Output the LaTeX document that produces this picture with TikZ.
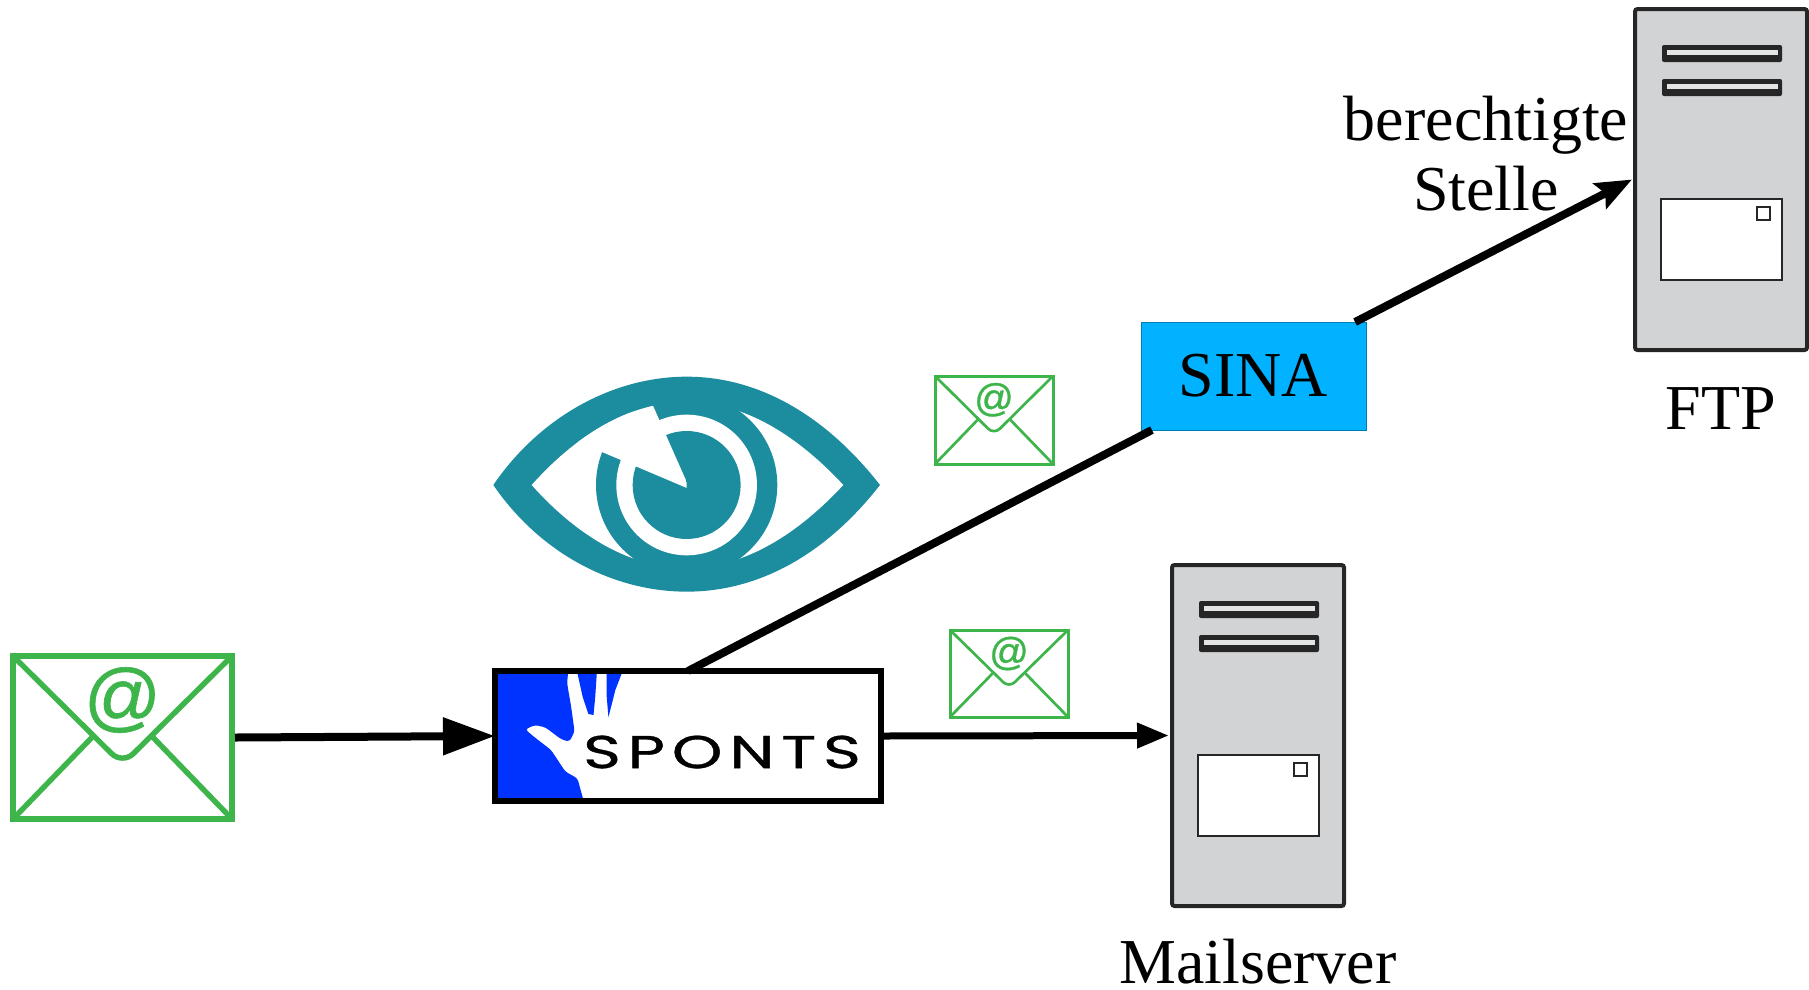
\documentclass[tikz,border=0pt]{standalone}
\usepackage{fontspec}
\usepackage{graphicx}
\setmainfont{Liberation Serif}
\newfontfamily\logofont[LetterSpace=10.6,FakeBold=0.7]{Poppins}
\newfontfamily\atfont[FakeBold=0.8]{Liberation Sans}
\usetikzlibrary{arrows.meta}
\definecolor{mailgreen}{HTML}{3DB54A}
\definecolor{eyeteal}{HTML}{1C8C9F}
\definecolor{handblue}{HTML}{0033FF}
\definecolor{sinablue}{HTML}{00B2FF}
\definecolor{servergrey}{HTML}{D1D3D4}
\definecolor{serverline}{HTML}{262626}
\tikzset{
  every node/.style={inner sep=0pt,outer sep=0pt},
  caption/.style={font=\fontsize{64}{70}\selectfont,anchor=base,text=black},
  flow/.style={draw=black,line width=8pt},
  envbox/.style={draw=mailgreen,fill=white,anchor=north west},
  serverbody/.style={draw=serverline,fill=servergrey,line width=4pt,rounded corners=2.5pt,anchor=north west,minimum width=172pt,minimum height=341pt},
  serverslot/.style={fill=serverline,rounded corners=2pt},
  serverslotin/.style={fill=servergrey!60!white},
  serverpanel/.style={draw=serverline,fill=white,line width=1.8pt},
}
% name, x, y, w, h, line width, font size
\newcommand{\mailicon}[7]{%
  \node[envbox,line width=#6pt,minimum width=#4pt,minimum height=#5pt] (#1) at (#2,#3) {};
  \begin{scope}[shift={(#2,#3)},xscale=#4,yscale=#5,draw=mailgreen,line width=0.9*#6pt]
    \draw[rounded corners=0.07*#4pt] (0,0) -- (.5,.665) -- (1,0);
    \draw (0,1) -- (.36,.5);
    \draw (1,1) -- (.64,.5);
    \node[text=mailgreen,font=\atfont\fontsize{#7}{#7}\selectfont] (#1at) at (.5,.27) {@};
  \end{scope}}
% name, dx, dy
\newcommand{\servertower}[3]{%
  \node[serverbody] (#1) at (1635+#2,9+#3) {};
  \begin{scope}[shift={(#2,#3)}]
    \fill[serverslot] (1662,45) rectangle (1782,62);
    \fill[serverslotin] (1667,49.5) rectangle (1778,55);
    \fill[serverslot] (1662,79) rectangle (1782,96);
    \fill[serverslotin] (1667,83.5) rectangle (1778,89);
    \draw[serverpanel] (1661,199) rectangle (1782,280);
    \draw[serverpanel] (1757,207) rectangle (1770,220);
  \end{scope}}
\begin{document}
\begin{tikzpicture}[x=1pt,y=-1pt]
\useasboundingbox (0,0) rectangle (1809,989);
\fill[white] (0,0) rectangle (1809,989);

% servers
\servertower{ftp}{0}{0}
\servertower{mail}{-463}{556}

% envelopes
\mailicon{envin}{13}{656}{219}{163}{6}{76}
\mailicon{envup}{935}{376}{118}{88}{3}{39}
\mailicon{envdown}{950}{630}{118}{87}{3}{39}

% SPONTS logo
\node[draw=black,fill=white,line width=5.5pt,minimum width=386pt,minimum height=130pt,anchor=north west] (sponts) at (495,671) {};
\begin{scope}[shift={(0,640)},xscale=0.574,yscale=0.3333]
  \fill[handblue,rounded corners=3pt] (866,92) -- (990,92) -- (988,130) -- (995,200) -- (1001,275) -- (992,305) -- (978,298) -- (950,262) -- (932,255) -- (915,268) -- (930,290) -- (960,330) -- (985,395) -- (1006,415) -- (1017,484) -- (866,484) -- cycle;
  \fill[handblue] (1005,92) -- (1015,170) -- (1025,222) -- (1034,225) -- (1037,170) -- (1040,92) -- cycle;
  \fill[handblue] (1057,92) -- (1057,170) -- (1060,232) -- (1072,150) -- (1085,92) -- cycle;
\end{scope}
\draw[black,line width=5.5pt] (sponts.north west) rectangle (sponts.south east);
\node[font=\logofont\fontsize{46}{46}\selectfont,text=black] (spontstext) at (722,752) {\scalebox{1.4}[1]{SPONTS}};

% SINA
\node[draw=sinablue!70!black,fill=sinablue,line width=0.8pt,minimum width=225pt,minimum height=108pt,anchor=north west,font=\fontsize{64}{70}\selectfont] (sina) at (1141,322) {\raisebox{-1pt}{SINA}};

% eye
\begin{scope}[shift={(480,360)},scale=0.3333]
  \fill[eyeteal] (40,375) .. controls (180,170) and (400,50) .. (620,50) .. controls (840,50) and (1040,170) .. (1200,375) .. controls (1040,580) and (840,695) .. (620,695) .. controls (400,695) and (180,580) .. (40,375) -- cycle;
  \fill[white] (155,375) .. controls (280,235) and (440,126) .. (620,126) .. controls (800,126) and (960,235) .. (1090,375) .. controls (960,515) and (800,624) .. (620,624) .. controls (440,624) and (280,515) .. (155,375) -- cycle;
  \fill[eyeteal] (620,375) circle (272);
  \fill[white] (620,375) circle (211);
  \fill[eyeteal] (620,375) circle (162);
  \begin{scope}
    \clip (155,375) .. controls (280,235) and (440,126) .. (620,126) -- (620,388) -- cycle;
    \fill[white] (630,388) -- (392,-150) -- (0,-150) -- (135,178) -- cycle;
  \end{scope}
\end{scope}

% labels
\node[caption] (lblA) at (1486,140) {berechtigte};
\node[caption] (lblB) at (1486,210) {Stelle};
\node[caption] (lblC) at (1721,429) {FTP};
\node[caption] (lblD) at (1258,983) {Mailserver};

% connectors
\draw[flow,-{Triangle[length=52pt,width=36pt]}] ([xshift=3pt]envin.east) -- (sponts.west);
\draw[flow,line width=7pt,-{Triangle[length=32pt,width=24pt]}] (sponts.east) -- ([xshift=-3pt]mail.west);
\draw[flow] (sponts.north) -- (sina.208);
\draw[flow,-{Stealth[length=36pt,width=28pt,inset=6pt]}] (sina.28.3) -- ([xshift=-3pt]ftp.west);
\end{tikzpicture}
\end{document}
